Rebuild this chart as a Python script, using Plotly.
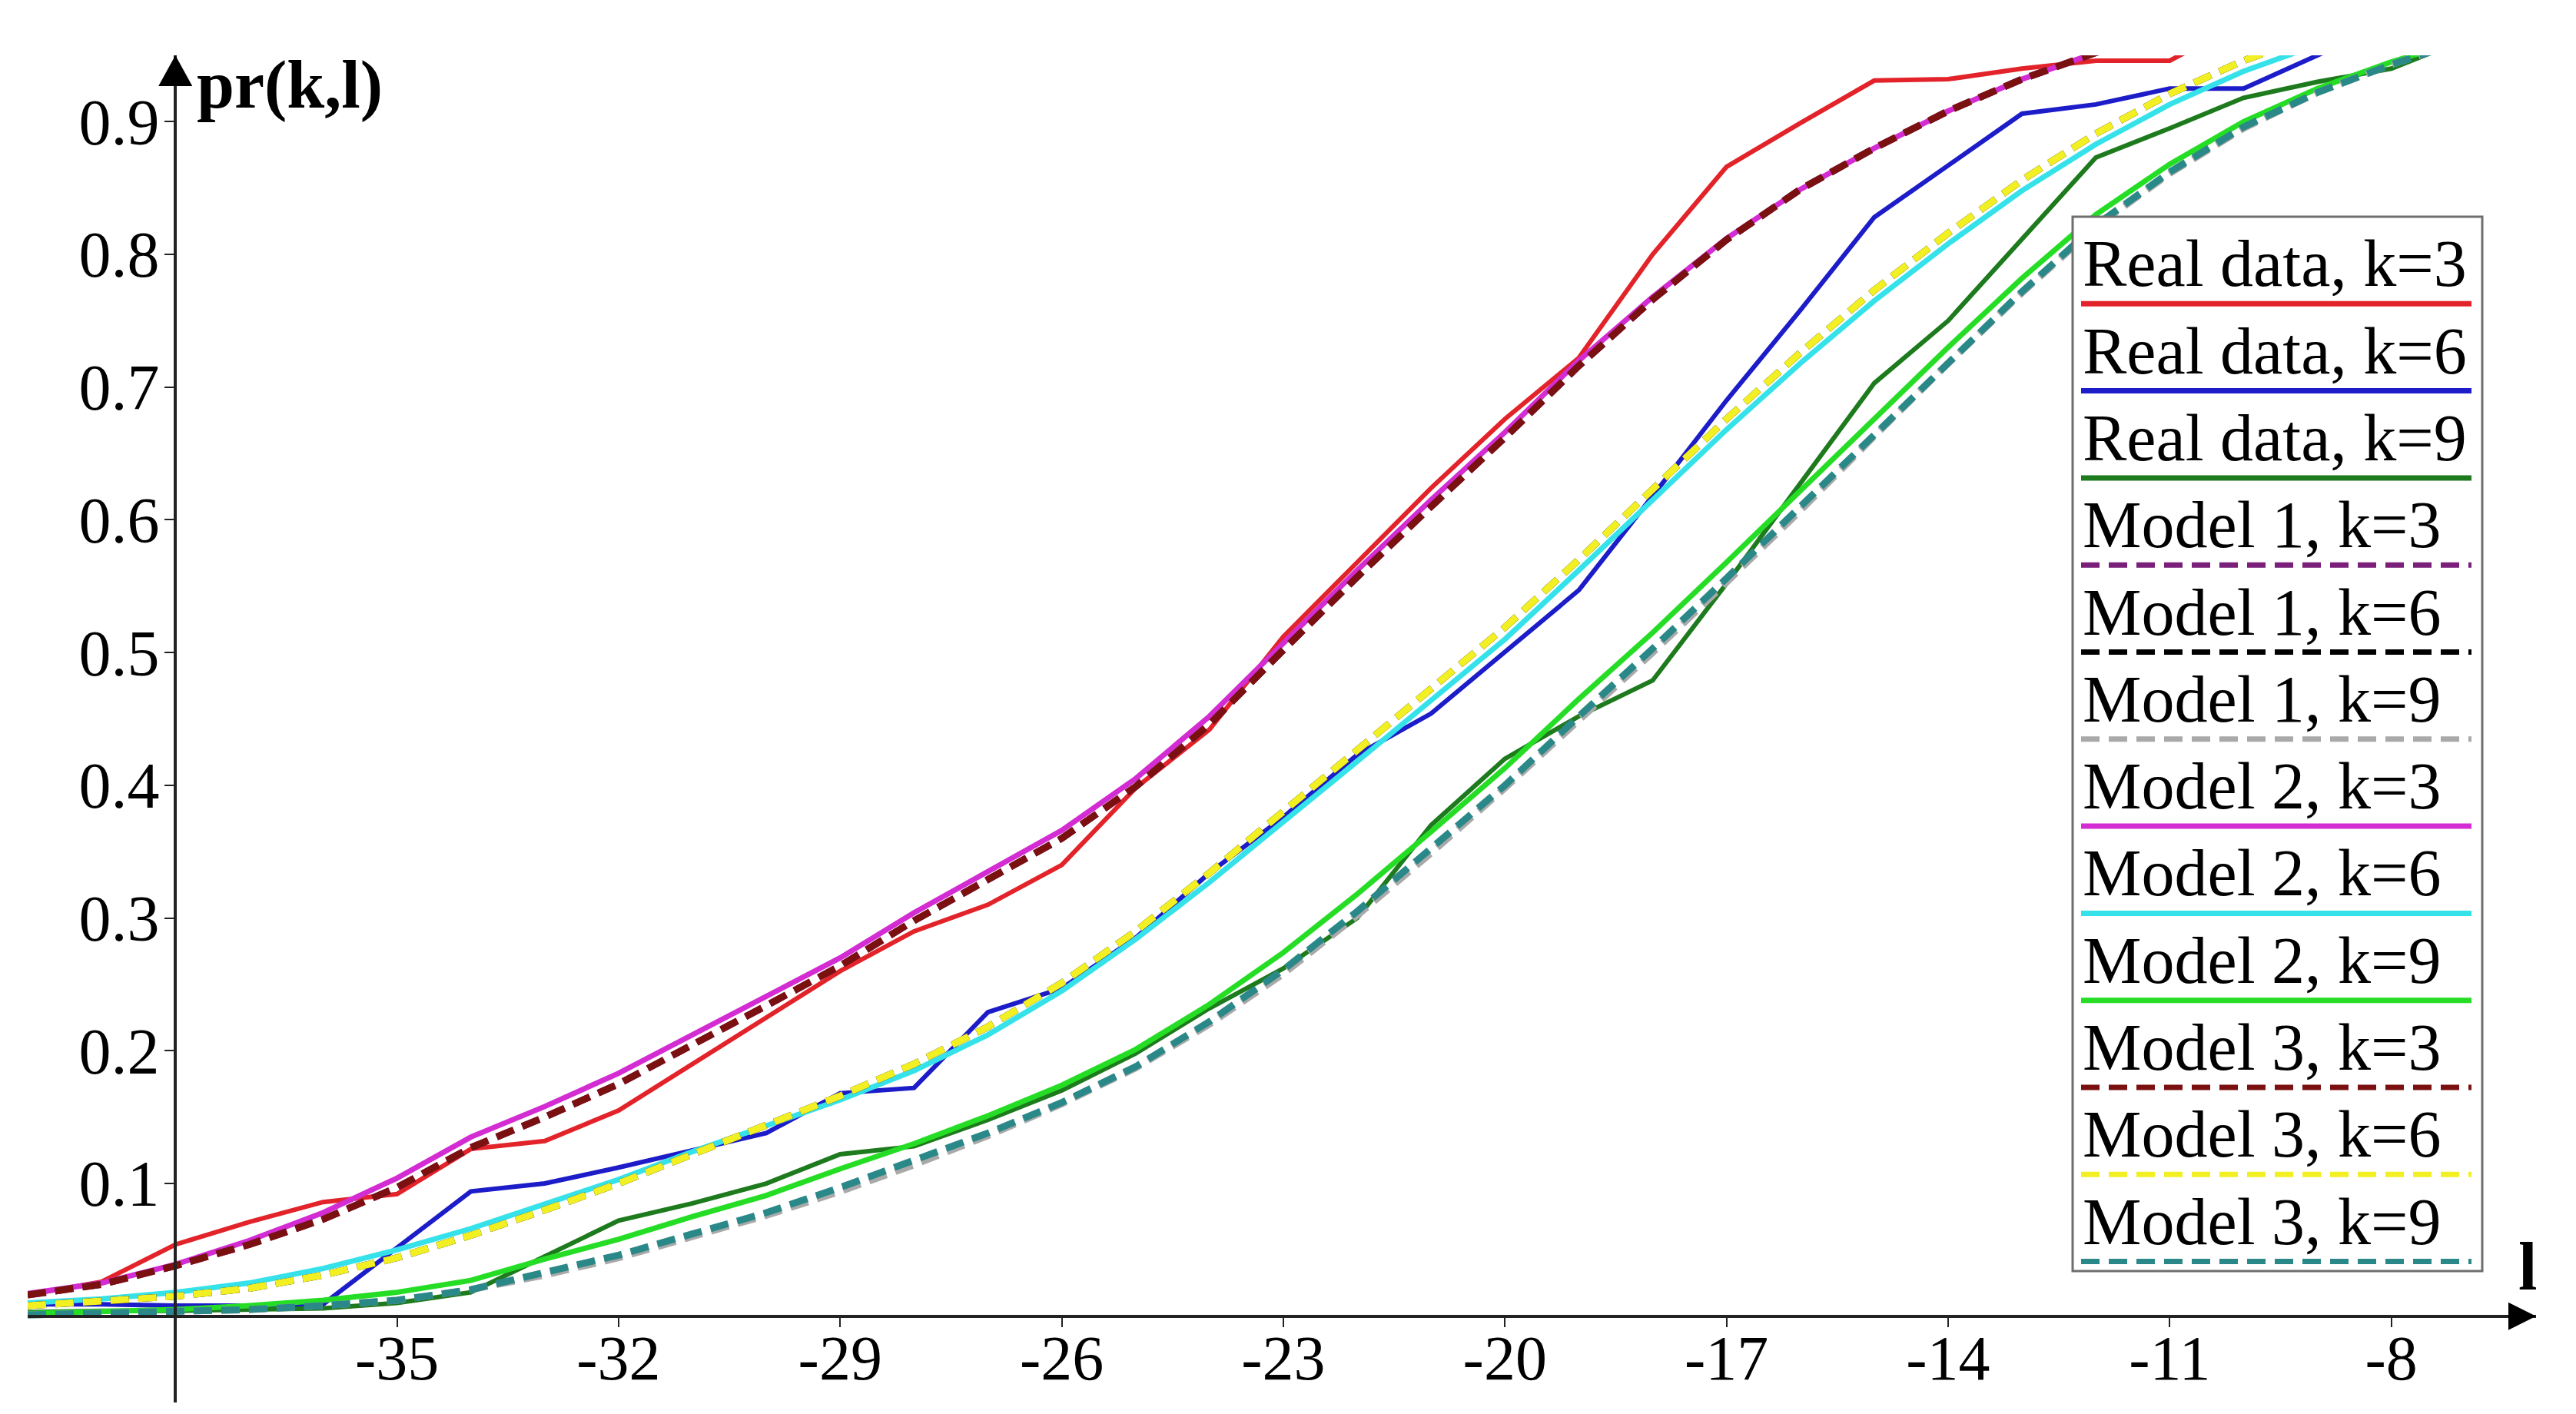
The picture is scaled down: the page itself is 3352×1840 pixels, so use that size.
import plotly.graph_objects as go

# ---------------- data ----------------
l_vals = list(range(-40, -6))  # -40 .. -7

real_k3 = [0.016, 0.026, 0.054, 0.071, 0.086, 0.092, 0.126, 0.132, 0.155, 0.190,
           0.226, 0.260, 0.290, 0.310, 0.340, 0.398, 0.442, 0.512, 0.568, 0.624,
           0.676, 0.722, 0.800, 0.866, 0.899, 0.931, 0.932, 0.940, 0.946, 0.946,
           0.975]
real_k6 = [0.009, 0.009, 0.008, 0.008, 0.009, 0.052, 0.094, 0.100, 0.112, 0.125,
           0.138, 0.168, 0.172, 0.229, 0.247, 0.285, 0.334, 0.376, 0.423, 0.454,
           0.500, 0.547, 0.618, 0.690, 0.758, 0.828, 0.867, 0.906, 0.913, 0.925,
           0.925, 0.950, 0.975]
real_k9 = [0.003, 0.004, 0.004, 0.005, 0.006, 0.010, 0.018, 0.045, 0.072, 0.085,
           0.100, 0.122, 0.128, 0.148, 0.170, 0.198, 0.232, 0.262, 0.300, 0.370,
           0.420, 0.452, 0.479, 0.552, 0.627, 0.703, 0.750, 0.812, 0.873, 0.895,
           0.918, 0.930, 0.940, 0.962]

m1_k3 = [0.016, 0.024, 0.038, 0.054, 0.073, 0.097, 0.127, 0.150, 0.175, 0.204,
         0.234, 0.264, 0.298, 0.329, 0.360, 0.399, 0.446, 0.502, 0.557, 0.610,
         0.662, 0.716, 0.766, 0.811, 0.849, 0.880, 0.908, 0.932, 0.952, 0.968]
m1_k6 = [0.008, 0.011, 0.015, 0.021, 0.031, 0.044, 0.061, 0.080, 0.100, 0.122,
         0.144, 0.166, 0.190, 0.218, 0.251, 0.290, 0.334, 0.380, 0.426, 0.473,
         0.519, 0.570, 0.623, 0.676, 0.726, 0.773, 0.816, 0.856, 0.891, 0.921,
         0.946, 0.966, 0.981]
m1_k9 = [0.001, 0.002, 0.003, 0.005, 0.008, 0.012, 0.020, 0.031, 0.044, 0.060,
         0.076, 0.094, 0.114, 0.136, 0.160, 0.187, 0.220, 0.258, 0.302, 0.349,
         0.398, 0.449, 0.500, 0.553, 0.607, 0.663, 0.718, 0.771, 0.821, 0.861,
         0.895, 0.922, 0.943, 0.961]

m2_k3 = [0.017, 0.025, 0.039, 0.057, 0.078, 0.104, 0.135, 0.158, 0.183, 0.212,
         0.240, 0.270, 0.304, 0.335, 0.366, 0.405, 0.452, 0.507, 0.562, 0.615,
         0.666, 0.720, 0.768, 0.812, 0.849, 0.880, 0.908, 0.932, 0.952, 0.968]
m2_k6 = [0.010, 0.013, 0.018, 0.025, 0.036, 0.050, 0.066, 0.084, 0.103, 0.124,
         0.143, 0.163, 0.185, 0.212, 0.245, 0.284, 0.327, 0.372, 0.418, 0.464,
         0.510, 0.562, 0.615, 0.668, 0.718, 0.765, 0.808, 0.848, 0.883, 0.913,
         0.938, 0.958, 0.975]
m2_k9 = [0.002, 0.003, 0.005, 0.008, 0.012, 0.018, 0.027, 0.043, 0.058, 0.075,
         0.091, 0.111, 0.130, 0.151, 0.174, 0.201, 0.235, 0.274, 0.318, 0.365,
         0.413, 0.465, 0.515, 0.568, 0.622, 0.677, 0.730, 0.782, 0.830, 0.868,
         0.900, 0.925, 0.945, 0.962]

m3_k3 = [0.016, 0.024, 0.038, 0.054, 0.073, 0.097, 0.127, 0.150, 0.175, 0.204,
         0.234, 0.264, 0.298, 0.329, 0.360, 0.399, 0.446, 0.502, 0.557, 0.610,
         0.662, 0.716, 0.766, 0.811, 0.849, 0.880, 0.908, 0.932, 0.952, 0.968]
m3_k6 = [0.008, 0.011, 0.015, 0.021, 0.031, 0.044, 0.061, 0.080, 0.100, 0.122,
         0.144, 0.166, 0.190, 0.218, 0.251, 0.290, 0.334, 0.380, 0.426, 0.473,
         0.519, 0.570, 0.623, 0.676, 0.726, 0.773, 0.816, 0.856, 0.891, 0.921,
         0.946, 0.966, 0.981]
m3_k9 = [0.001, 0.002, 0.003, 0.005, 0.008, 0.012, 0.020, 0.033, 0.046, 0.062,
         0.078, 0.097, 0.117, 0.138, 0.161, 0.188, 0.222, 0.261, 0.305, 0.352,
         0.400, 0.452, 0.503, 0.556, 0.610, 0.665, 0.719, 0.772, 0.822, 0.862,
         0.896, 0.922, 0.943, 0.961]

x_ticks = [-35, -32, -29, -26, -23, -20, -17, -14, -11, -8]
x_tick_text = ["-35", "-32", "-29", "-26", "-23", "-20", "-17", "-14", "-11", "-8"]
y_ticks = [0.1, 0.2, 0.3, 0.4, 0.5, 0.6, 0.7, 0.8, 0.9]
y_tick_text = ["0.1", "0.2", "0.3", "0.4", "0.5", "0.6", "0.7", "0.8", "0.9"]

# ---------------- styles ----------------
FONT = "Liberation Serif"
W, H = 3352, 1840
ML, MR, MT, MB = 28, 60, 64, 23
XMIN, XMAX = -40.0, -6.04
YMIN, YMAX = -0.065, 0.95
Y_AXIS_AT = -38

DASH = "24px,12px"
series = [
    # name, values, color, dash, width
    ("Real data, k=3", real_k3, "#e3232a", "solid", 6),
    ("Real data, k=6", real_k6, "#1c1cc8", "solid", 6),
    ("Real data, k=9", real_k9, "#1d7a1d", "solid", 6),
    ("Model 1, k=3", m1_k3, "#7a1f7a", DASH, 9),
    ("Model 1, k=6", m1_k6, "#000000", DASH, 9),
    ("Model 1, k=9", m1_k9, "#a9a9a9", DASH, 9),
    ("Model 2, k=3", m2_k3, "#d22cd2", "solid", 7),
    ("Model 2, k=6", m2_k6, "#35e2ea", "solid", 7),
    ("Model 2, k=9", m2_k9, "#26dd26", "solid", 7),
    ("Model 3, k=3", m3_k3, "#7a1010", DASH, 9),
    ("Model 3, k=6", m3_k6, "#f2f022", DASH, 9),
    ("Model 3, k=9", m3_k9, "#2a8888", DASH, 9),
]
draw_order = [0, 1, 2, 6, 7, 8, 5, 3, 4, 9, 10, 11]

fig = go.Figure()
for i in draw_order:
    name, vals, color, dash, width = series[i]
    fig.add_trace(go.Scatter(
        x=l_vals[:len(vals)], y=vals, mode="lines", name=name,
        line=dict(color=color, width=width, dash=dash),
        showlegend=False,
    ))

pw = W - ML - MR
ph = H - MT - MB


def px_x(p):
    return (p - ML) / pw


def px_y(p):
    return (H - MB - p) / ph


shapes = []
annotations = []

# axis arrows
shapes.append(dict(type="path", xref="x", yref="y", xsizemode="pixel", ysizemode="pixel",
                   xanchor=XMAX, yanchor=0, path="M 0 0 L -36 18 L -36 -18 Z",
                   fillcolor="black", line=dict(width=0), layer="above"))
shapes.append(dict(type="path", xref="x", yref="y", xsizemode="pixel", ysizemode="pixel",
                   xanchor=Y_AXIS_AT, yanchor=YMAX, path="M 0 0 L -22 -40 L 22 -40 Z",
                   fillcolor="black", line=dict(width=0), layer="above"))

# custom legend
box_x0, box_x1, box_y0, box_y1 = 2689, 3222, 274, 1646
shapes.append(dict(type="rect", xref="paper", yref="paper",
                   x0=px_x(box_x0), x1=px_x(box_x1), y0=px_y(box_y1), y1=px_y(box_y0),
                   fillcolor="white", line=dict(color="#6e6e6e", width=3), layer="above"))
row_h = 113.3
for i, (name, vals, color, dash, width) in enumerate(series):
    ly = box_y0 + row_h * (i + 1)
    shapes.append(dict(type="line", xref="paper", yref="paper",
                       x0=px_x(2700), x1=px_x(3208), y0=px_y(ly), y1=px_y(ly),
                       line=dict(color=color, width=7, dash=dash), layer="above"))
    annotations.append(dict(text=name, xref="paper", yref="paper",
                            x=px_x(2700), y=px_y(ly - 52), xanchor="left", yanchor="middle",
                            showarrow=False, font=dict(family=FONT, size=86, color="black")))

# axis titles
annotations.append(dict(text="<b>pr(k,l)</b>", xref="paper", yref="paper",
                        x=px_x(246), y=px_y(102), xanchor="left", yanchor="middle",
                        showarrow=False, font=dict(family=FONT, size=88, color="black")))
annotations.append(dict(text="<b>l</b>", xref="paper", yref="paper",
                        x=px_x(3281), y=px_y(1640), xanchor="center", yanchor="middle",
                        showarrow=False, font=dict(family=FONT, size=88, color="black")))

fig.update_layout(
    width=W, height=H,
    margin=dict(l=ML, r=MR, t=MT, b=MB, pad=0),
    paper_bgcolor="white", plot_bgcolor="white",
    font=dict(family=FONT, color="black"),
    shapes=shapes, annotations=annotations,
    xaxis=dict(range=[XMIN, XMAX], anchor="free", position=(0 - YMIN) / (YMAX - YMIN),
               showgrid=False, zeroline=False, showline=True, linecolor="#222222", linewidth=4,
               ticks="outside", ticklen=12, tickwidth=2, tickcolor="#222222",
               ticklabelstandoff=-30,
               tickvals=x_ticks, ticktext=x_tick_text, automargin=False,
               tickfont=dict(family=FONT, size=82, color="black")),
    yaxis=dict(range=[YMIN, YMAX], anchor="free",
               position=(Y_AXIS_AT - XMIN) / (XMAX - XMIN),
               showgrid=False, zeroline=False, showline=True, linecolor="#222222", linewidth=4,
               ticks="outside", ticklen=12, tickwidth=2, tickcolor="#222222",
               ticklabelstandoff=-10,
               tickvals=y_ticks, ticktext=y_tick_text, automargin=False,
               tickfont=dict(family=FONT, size=84, color="black")),
)

fig.write_html("out.html")
